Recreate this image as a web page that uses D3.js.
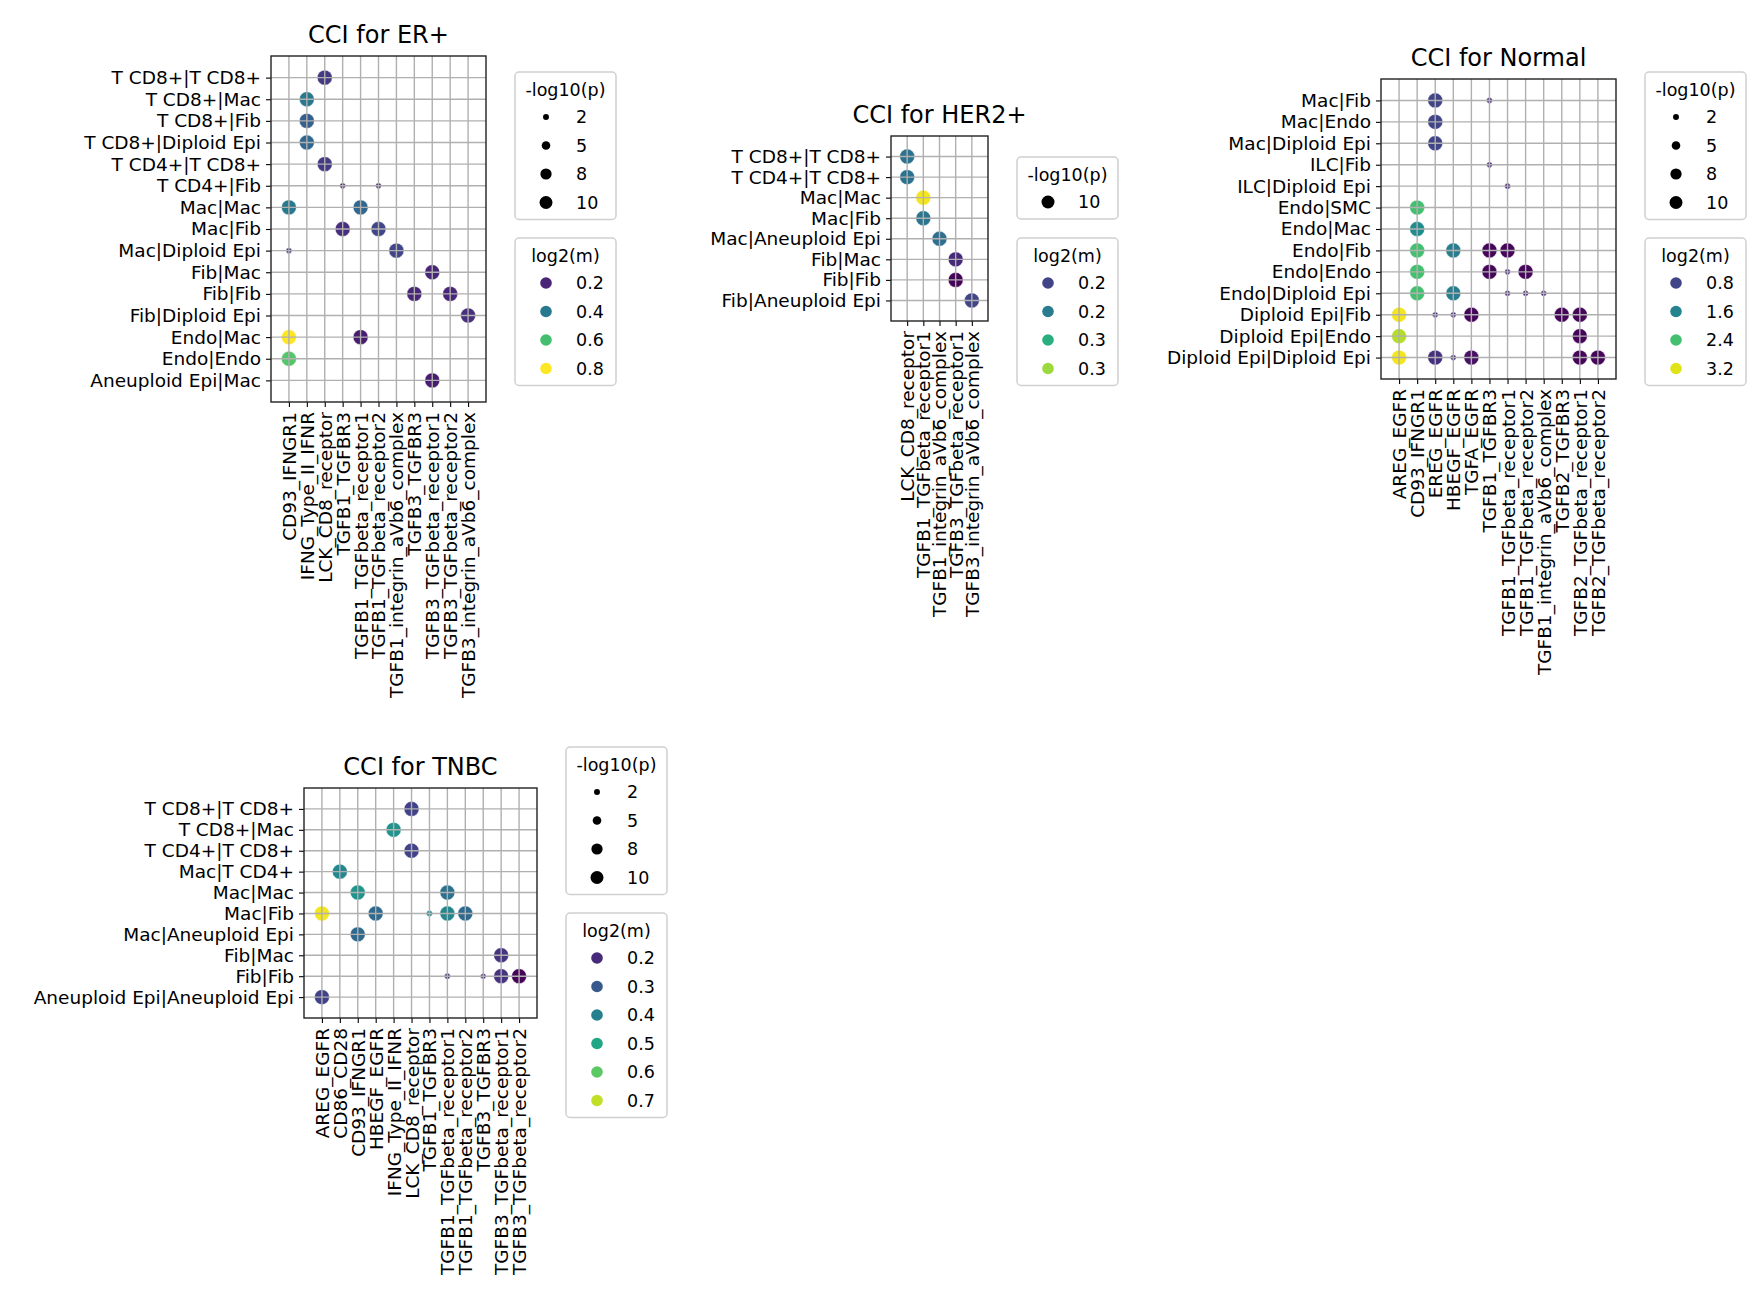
<!DOCTYPE html>
<html><head><meta charset="utf-8">
<script src="https://cdn.jsdelivr.net/npm/d3@7"></script>
<style>body{margin:0;background:#fff}text{font-family:"DejaVu Sans",sans-serif;fill:#000}</style>
</head><body><svg id="c" width="1764" height="1310"></svg>
<script>
// ---------- data ----------
const erRows = ["T CD8+|T CD8+","T CD8+|Mac","T CD8+|Fib","T CD8+|Diploid Epi","T CD4+|T CD8+","T CD4+|Fib","Mac|Mac","Mac|Fib","Mac|Diploid Epi","Fib|Mac","Fib|Fib","Fib|Diploid Epi","Endo|Mac","Endo|Endo","Aneuploid Epi|Mac"];
const erCols = ["CD93_IFNGR1","IFNG_Type_II_IFNR","LCK_CD8_receptor","TGFB1_TGFBR3","TGFB1_TGFbeta_receptor1","TGFB1_TGFbeta_receptor2","TGFB1_integrin_aVb6_complex","TGFB3_TGFBR3","TGFB3_TGFbeta_receptor1","TGFB3_TGFbeta_receptor2","TGFB3_integrin_aVb6_complex"];
// [row, col, log2(m), -log10(p)]
const erPoints = [[0,2,0.24,11],[1,1,0.40,11],[2,1,0.33,11],[3,1,0.35,11],[4,2,0.24,11],[5,3,0.2,0.5],[5,5,0.2,0.5],
 [6,0,0.40,11],[6,4,0.35,11],[7,3,0.22,11],[7,5,0.27,11],[8,0,0.25,0.5],[8,6,0.27,11],[9,8,0.2,11],[10,7,0.2,11],[10,9,0.2,11],
 [11,10,0.22,11],[12,0,0.80,11],[12,4,0.18,11],[13,0,0.62,11],[14,8,0.18,11]];
const erSizeTicks = [2,5,8,10];
const erColorTicks = [0.2,0.4,0.6,0.8];

const herRows = ["T CD8+|T CD8+","T CD4+|T CD8+","Mac|Mac","Mac|Fib","Mac|Aneuploid Epi","Fib|Mac","Fib|Fib","Fib|Aneuploid Epi"];
const herCols = ["LCK_CD8_receptor","TGFB1_TGFbeta_receptor1","TGFB1_integrin_aVb6_complex","TGFB3_TGFbeta_receptor1","TGFB3_integrin_aVb6_complex"];
const herPoints = [[0,0,0.233,11],[1,0,0.233,11],[2,1,0.345,11],[3,1,0.235,11],[4,2,0.23,11],[5,3,0.185,11],[6,3,0.165,11],[7,4,0.2,11]];
const herSizeTicks = [10];
const herColorTicks = [0.2,0.24,0.28,0.32];

const norRows = ["Mac|Fib","Mac|Endo","Mac|Diploid Epi","ILC|Fib","ILC|Diploid Epi","Endo|SMC","Endo|Mac","Endo|Fib","Endo|Endo","Endo|Diploid Epi","Diploid Epi|Fib","Diploid Epi|Endo","Diploid Epi|Diploid Epi"];
const norCols = ["AREG_EGFR","CD93_IFNGR1","EREG_EGFR","HBEGF_EGFR","TGFA_EGFR","TGFB1_TGFBR3","TGFB1_TGFbeta_receptor1","TGFB1_TGFbeta_receptor2","TGFB1_integrin_aVb6_complex","TGFB2_TGFBR3","TGFB2_TGFbeta_receptor1","TGFB2_TGFbeta_receptor2"];
const norPoints = [[0,2,0.8,11],[0,5,0.5,0.5],[1,2,0.8,11],[2,2,0.8,11],[3,5,0.5,0.5],[4,6,0.5,0.5],[5,1,2.4,11],[6,1,1.7,11],
 [7,1,2.4,11],[7,3,1.5,11],[7,5,0.2,11],[7,6,0.2,11],[8,1,2.4,11],[8,5,0.2,11],[8,6,0.5,0.5],[8,7,0.2,11],
 [9,1,2.4,11],[9,3,1.5,11],[9,6,0.5,0.5],[9,7,0.5,0.5],[9,8,0.5,0.5],
 [10,0,3.3,11],[10,2,0.6,0.5],[10,3,0.6,0.5],[10,4,0.2,11],[10,9,0.2,11],[10,10,0.2,11],
 [11,0,3.0,11],[11,10,0.2,11],[12,0,3.3,11],[12,2,0.6,11],[12,3,0.6,0.5],[12,4,0.3,11],[12,10,0.2,11],[12,11,0.2,11]];
const norSizeTicks = [2,5,8,10];
const norColorTicks = [0.8,1.6,2.4,3.2];

const tnRows = ["T CD8+|T CD8+","T CD8+|Mac","T CD4+|T CD8+","Mac|T CD4+","Mac|Mac","Mac|Fib","Mac|Aneuploid Epi","Fib|Mac","Fib|Fib","Aneuploid Epi|Aneuploid Epi"];
const tnCols = ["AREG_EGFR","CD86_CD28","CD93_IFNGR1","HBEGF_EGFR","IFNG_Type_II_IFNR","LCK_CD8_receptor","TGFB1_TGFBR3","TGFB1_TGFbeta_receptor1","TGFB1_TGFbeta_receptor2","TGFB3_TGFBR3","TGFB3_TGFbeta_receptor1","TGFB3_TGFbeta_receptor2"];
const tnPoints = [[0,5,0.25,11],[1,4,0.45,11],[2,5,0.25,11],[3,1,0.42,11],[4,2,0.45,11],[4,7,0.36,11],
 [5,0,0.75,11],[5,3,0.34,11],[5,6,0.42,0.9],[5,7,0.42,11],[5,8,0.34,11],[6,2,0.34,11],[7,10,0.22,11],
 [8,7,0.2,0.5],[8,9,0.2,0.3],[8,10,0.22,11],[8,11,0.13,11],[9,0,0.25,11]];
const tnSizeTicks = [2,5,8,10];
const tnColorTicks = [0.2,0.3,0.4,0.5,0.6,0.7];

// ---------- drawing ----------
const svg = d3.select("#c");
const rScale = d3.scaleLinear().domain([0,10]).range([2.6,7.0]);
const FS = 18.5;

function panel(o){
  const g = svg.append("g");
  const x = d3.scalePoint().domain(o.cols.map((d,i)=>i)).range([o.l,o.r]).padding(1);
  const y = d3.scalePoint().domain(o.rows.map((d,i)=>i)).range([o.t,o.b]).padding(1);
  const col = d3.scaleSequential(d3.interpolateViridis).domain(o.cdom);
  g.selectAll("circle.pt").data(o.pts).join("circle")
    .attr("cx",d=>x(d[1])).attr("cy",d=>y(d[0])).attr("r",d=>rScale(d[3]))
    .attr("fill",d=>col(d[2])).attr("stroke","#fff").attr("stroke-width",0.4);
  g.selectAll("line.gx").data(x.domain()).join("line")
    .attr("x1",d=>x(d)).attr("x2",d=>x(d)).attr("y1",o.t).attr("y2",o.b).attr("stroke","#b0b0b0").attr("stroke-width",1.4);
  g.selectAll("line.gy").data(y.domain()).join("line")
    .attr("y1",d=>y(d)).attr("y2",d=>y(d)).attr("x1",o.l).attr("x2",o.r).attr("stroke","#b0b0b0").attr("stroke-width",1.4);
  const xa = g.append("g").attr("transform",`translate(0,${o.b})`)
    .call(d3.axisBottom(x).tickSize(5).tickPadding(5).tickFormat(i=>o.cols[i]));
  xa.selectAll("text").attr("font-size",FS).attr("text-anchor","end")
    .attr("transform",`translate(0,10) rotate(-90)`).attr("x",0).attr("y",0).attr("dy","0.35em");
  const ya = g.append("g").attr("transform",`translate(${o.l},0)`)
    .call(d3.axisLeft(y).tickSize(5).tickPadding(5).tickFormat(i=>o.rows[i]));
  ya.selectAll("text").attr("font-size",FS);
  [xa,ya].forEach(a=>{a.select(".domain").remove();a.selectAll("line").attr("stroke","#000").attr("stroke-width",1.1);});
  g.append("rect").attr("x",o.l).attr("y",o.t).attr("width",o.r-o.l).attr("height",o.b-o.t)
    .attr("fill","none").attr("stroke","#222").attr("stroke-width",1.4);
  g.append("text").attr("x",(o.l+o.r)/2).attr("y",o.t-13).attr("text-anchor","middle").attr("font-size",24).text(o.title);
  const lx = o.r+29;
  function legend(ly,title,ticks,fmt,rad,fill){
    const h = 45+(ticks.length-1)*28.5+17;
    const lg = svg.append("g");
    lg.append("rect").attr("x",lx).attr("y",ly).attr("width",101).attr("height",h).attr("rx",4)
      .attr("fill","#fff").attr("stroke","#d0d0d0").attr("stroke-width",1.5);
    lg.append("text").attr("x",lx+50.5).attr("y",ly+24).attr("text-anchor","middle").attr("font-size",FS-1).text(title);
    ticks.forEach((t,i)=>{
      const yy = ly+45+i*28.5;
      lg.append("circle").attr("cx",lx+31).attr("cy",yy).attr("r",rad(t)).attr("fill",fill(t));
      lg.append("text").attr("x",lx+61).attr("y",yy).attr("dy","0.35em").attr("font-size",FS-1).text(fmt(t));
    });
  }
  legend(o.ly1,"-log10(p)",o.sizeTicks,d=>d,t=>rScale(t)-0.5,()=>"#000");
  legend(o.ly2,"log2(m)",o.colorTicks,d3.format(".1f"),()=>5.8,t=>col(t));
}

panel({title:"CCI for ER+",rows:erRows,cols:erCols,pts:erPoints,l:271,r:486,t:56,b:402,cdom:[0.13,0.80],sizeTicks:erSizeTicks,colorTicks:erColorTicks,ly1:72,ly2:238});
panel({title:"CCI for HER2+",rows:herRows,cols:herCols,pts:herPoints,l:891,r:988,t:136,b:321,cdom:[0.163,0.348],sizeTicks:herSizeTicks,colorTicks:herColorTicks,ly1:157,ly2:238});
panel({title:"CCI for Normal",rows:norRows,cols:norCols,pts:norPoints,l:1381,r:1616,t:79,b:379,cdom:[0.16,3.36],sizeTicks:norSizeTicks,colorTicks:norColorTicks,ly1:72,ly2:238});
panel({title:"CCI for TNBC",rows:tnRows,cols:tnCols,pts:tnPoints,l:304,r:537,t:788,b:1018,cdom:[0.125,0.76],sizeTicks:tnSizeTicks,colorTicks:tnColorTicks,ly1:747,ly2:913});
</script></body></html>
